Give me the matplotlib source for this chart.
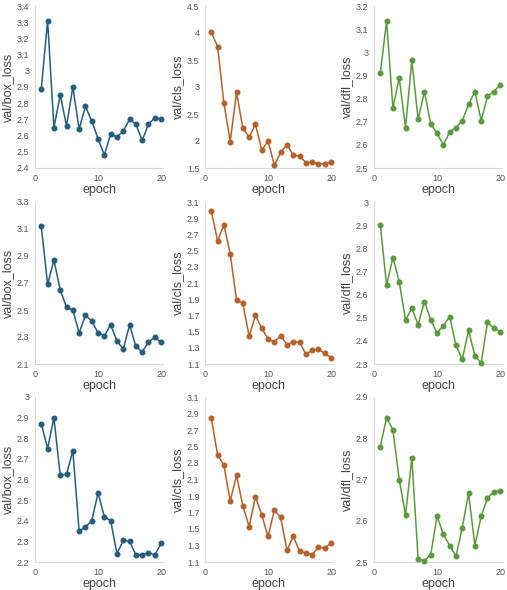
import matplotlib
matplotlib.use("Agg")
import matplotlib.pyplot as plt
import numpy as np
from matplotlib.ticker import FuncFormatter

plt.rcParams['font.family'] = ['Liberation Sans', 'DejaVu Sans']

epochs = list(range(1, 21))

# run 1
box_loss_1 = [2.89, 3.31, 2.65, 2.85, 2.66, 2.90, 2.64, 2.78, 2.69, 2.58,
              2.48, 2.61, 2.59, 2.63, 2.70, 2.67, 2.57, 2.67, 2.71, 2.70]
cls_loss_1 = [4.01, 3.75, 2.70, 1.99, 2.90, 2.24, 2.07, 2.31, 1.83, 2.00,
              1.55, 1.79, 1.93, 1.74, 1.72, 1.60, 1.61, 1.58, 1.58, 1.61]
dfl_loss_1 = [2.91, 3.135, 2.76, 2.89, 2.675, 2.965, 2.71, 2.83, 2.69, 2.65,
              2.60, 2.655, 2.675, 2.705, 2.775, 2.83, 2.705, 2.81, 2.83, 2.86]

# run 2
box_loss_2 = [3.12, 2.69, 2.87, 2.65, 2.52, 2.50, 2.33, 2.46, 2.42, 2.33,
              2.31, 2.39, 2.27, 2.21, 2.39, 2.23, 2.19, 2.26, 2.30, 2.26]
cls_loss_2 = [2.99, 2.62, 2.82, 2.46, 1.89, 1.85, 1.44, 1.70, 1.54, 1.41,
              1.37, 1.45, 1.34, 1.37, 1.37, 1.22, 1.27, 1.28, 1.23, 1.18]
dfl_loss_2 = [2.90, 2.64, 2.76, 2.655, 2.49, 2.54, 2.47, 2.57, 2.49, 2.435,
              2.465, 2.505, 2.38, 2.32, 2.445, 2.335, 2.305, 2.48, 2.455, 2.44]

# run 3
box_loss_3 = [2.87, 2.75, 2.90, 2.62, 2.625, 2.74, 2.35, 2.37, 2.40, 2.535,
              2.42, 2.40, 2.24, 2.305, 2.30, 2.235, 2.235, 2.245, 2.235, 2.29]
cls_loss_3 = [2.84, 2.40, 2.27, 1.84, 2.15, 1.78, 1.53, 1.89, 1.67, 1.41,
              1.73, 1.64, 1.24, 1.41, 1.23, 1.21, 1.19, 1.28, 1.27, 1.33]
dfl_loss_3 = [2.78, 2.85, 2.82, 2.70, 2.614, 2.752, 2.507, 2.503, 2.518, 2.611,
              2.567, 2.54, 2.514, 2.583, 2.667, 2.54, 2.611, 2.655, 2.67, 2.673]

rows = [
    [box_loss_1, cls_loss_1, dfl_loss_1],
    [box_loss_2, cls_loss_2, dfl_loss_2],
    [box_loss_3, cls_loss_3, dfl_loss_3],
]
ylabels = ["val/box_loss", "val/cls_loss", "val/dfl_loss"]
colors = ["#255e7c", "#b5612b", "#5b9a3c"]

# (ymin, ymax, step) per panel
yranges = [
    [(2.4, 3.4, 0.1), (1.5, 4.5, 0.5), (2.5, 3.2, 0.1)],
    [(2.1, 3.3, 0.2), (1.1, 3.1, 0.2), (2.3, 3.0, 0.1)],
    [(2.2, 3.0, 0.1), (1.1, 3.1, 0.2), (2.5, 2.9, 0.1)],
]

W, H = 507, 590
fig = plt.figure(figsize=(W / 100, H / 100), dpi=100)

col_left = [35, 205, 374]
col_width = 128
row_top = [6, 202, 397]
row_bottom = [168, 364, 562]

fmt = FuncFormatter(lambda v, p: f"{round(v, 2):g}")

for r in range(3):
    for c in range(3):
        ax = fig.add_axes([col_left[c] / W, 1 - row_bottom[r] / H,
                           col_width / W, (row_bottom[r] - row_top[r]) / H])
        ax.plot(epochs, rows[r][c], color=colors[c], lw=1.1,
                marker="o", ms=3.3, mfc=colors[c], mec=colors[c],
                clip_on=False, zorder=3)
        lo, hi, st = yranges[r][c]
        ax.set_ylim(lo, hi)
        ax.set_yticks(np.arange(lo, hi + st / 2, st))
        ax.yaxis.set_major_formatter(fmt)
        ax.set_xlim(0, 20.3)
        ax.set_xticks([0, 10, 20])
        for s in ["top", "right"]:
            ax.spines[s].set_visible(False)
        for s in ["left", "bottom"]:
            ax.spines[s].set_color("#d9d9d9")
            ax.spines[s].set_linewidth(0.8)
        ax.tick_params(length=0, labelsize=6.5, colors="#555555", pad=4)
        ax.set_ylabel(ylabels[c], fontsize=9, color="#444444", labelpad=2)
        ax.set_xlabel("epoch", fontsize=9, color="#444444", labelpad=1)

fig.savefig("out.png", dpi=100)
